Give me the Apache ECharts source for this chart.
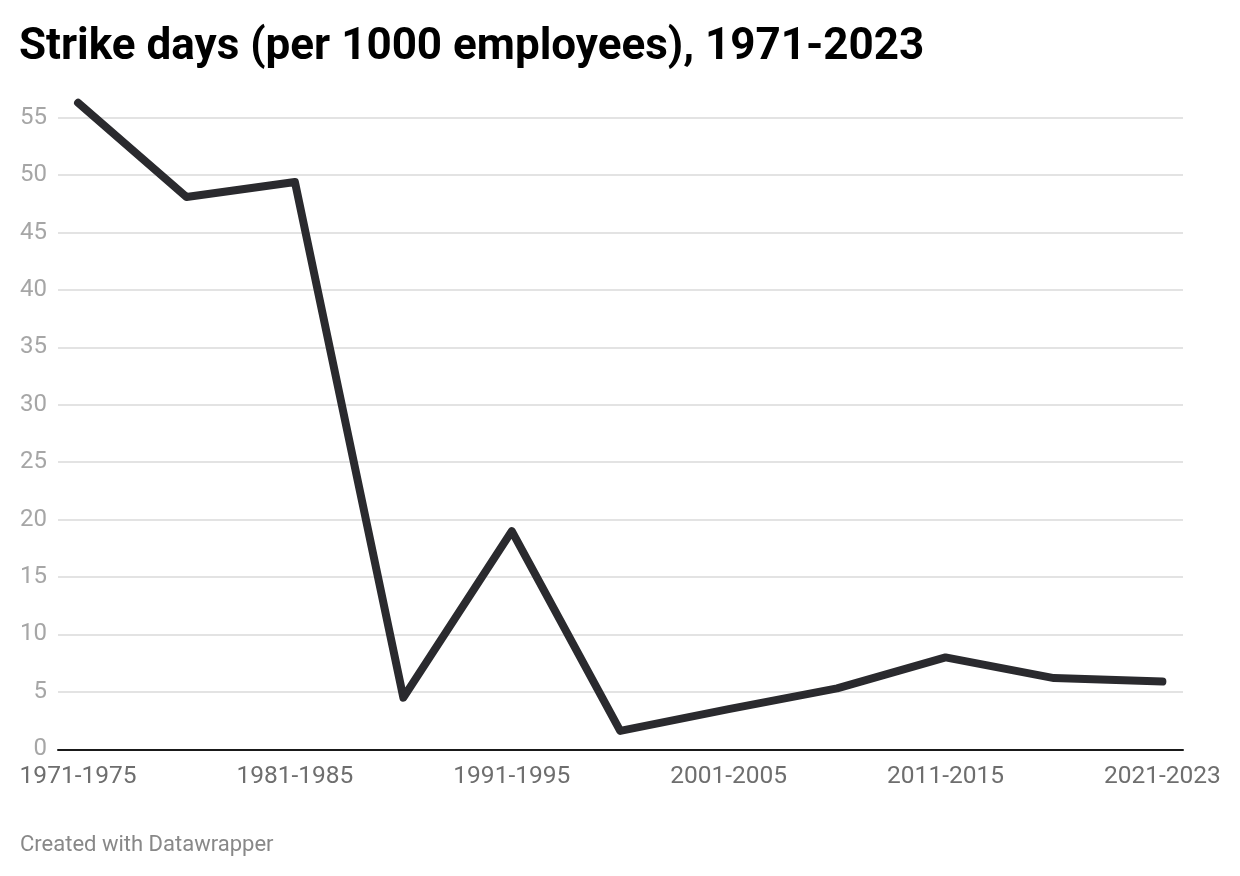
<!DOCTYPE html>
<html>
<head>
<meta charset="utf-8">
<script src="https://cdn.jsdelivr.net/npm/echarts@6/dist/echarts.min.js"></script>
<style>
  html, body { margin: 0; padding: 0; background: #fff; }
  #chart { width: 1240px; height: 876px; }
</style>
</head>
<body>
<div id="chart"></div>
<script>
const categories = ['1971-1975','1976-1980','1981-1985','1986-1990','1991-1995','1996-2000','2001-2005','2006-2010','2011-2015','2016-2020','2021-2023'];
const strikeDays = [56.3, 48.1, 49.4, 4.5, 19.0, 1.6, 3.5, 5.3, 8.0, 6.2, 5.9];
const labelIndices = [0, 2, 4, 6, 8, 10];
const yTicks = [0, 5, 10, 15, 20, 25, 30, 35, 40, 45, 50, 55];

const chart = echarts.init(document.getElementById('chart'), null, { renderer: 'canvas' });
chart.setOption({
  animation: false,
  backgroundColor: '#ffffff',
  title: [{
    text: 'Strike days (per 1000 employees), 1971-2023',
    left: 19, top: 26, padding: 0,
    textStyle: { fontFamily: 'Roboto', fontWeight: 'bold', fontSize: 44, color: '#000' }
  }, {
    text: 'Created with Datawrapper',
    left: 20, top: 834, padding: 0,
    textStyle: { fontFamily: 'Roboto', fontWeight: 'normal', fontSize: 22, color: '#888' }
  }],
  grid: { left: 58, right: 57, top: 117.7, bottom: 126.7, containLabel: false },
  xAxis: {
    type: 'value',
    min: -0.185, max: 10.19,
    axisLine: { show: true, onZero: false, lineStyle: { color: '#1a1a1a', width: 2 } },
    axisTick: { show: false },
    splitLine: { show: false },
    axisLabel: {
      customValues: labelIndices,
      formatter: v => categories[Math.round(v)],
      fontFamily: 'Roboto', fontSize: 24.5, color: '#6e6e6e', margin: 15,
      showMinLabel: true, showMaxLabel: true
    }
  },
  yAxis: {
    type: 'value',
    min: yTicks[0], max: yTicks[yTicks.length - 1], interval: 5,
    axisLine: { show: false },
    axisTick: { show: false },
    splitLine: { show: true, lineStyle: { color: '#e3e3e3', width: 2 } },
    axisLabel: { fontFamily: 'Roboto', fontSize: 24, color: '#a6a6a6', margin: 11 }
  },
  series: [{
    type: 'line',
    data: strikeDays.map((v, i) => [i, v]),
    clip: false,
    symbol: 'none',
    lineStyle: { color: '#2a2a2e', width: 8, cap: 'round', join: 'round' },
    z: 5
  }]
});
</script>
</body>
</html>
